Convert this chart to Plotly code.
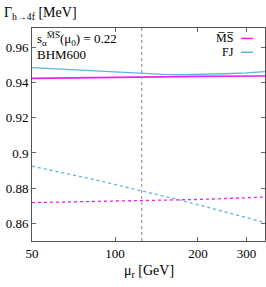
import math
import plotly.graph_objects as go

# renormalisation scale mu_r [GeV]
mu_r = [50, 60, 70, 85, 100, 125, 150, 175, 200, 250, 300, 350]

# solid lines (full result)
ms_full = [0.9424, 0.9426, 0.9427, 0.9429, 0.9430, 0.9432, 0.9433, 0.9434, 0.9435, 0.9436, 0.9436, 0.9437]
fj_full = [0.9485, 0.9478, 0.9472, 0.9464, 0.9458, 0.9450, 0.9446, 0.9445, 0.9446, 0.9450, 0.9455, 0.9462]

# dotted lines (LO)
ms_lo = [0.8718, 0.8720, 0.8721, 0.8723, 0.8725, 0.8729, 0.8731, 0.8733, 0.8736, 0.8741, 0.8745, 0.8750]
fj_lo = [0.8925, 0.8899, 0.8875, 0.8847, 0.8821, 0.8786, 0.8756, 0.8730, 0.8706, 0.8666, 0.8633, 0.8605]

mu0 = 125
x_range = [50, 350]
y_range = [0.85, 0.971]
x_ticks = [50, 100, 200, 300]
y_ticks = [0.86, 0.88, 0.90, 0.92, 0.94, 0.96]
y_ticktext = ["0.86", "0.88", "0.9", "0.92", "0.94", "0.96"]

MS_COL = "#f01ef0"
FJ_COL = "#5ab4e6"
FONT = "Liberation Serif"

fig = go.Figure()
fig.add_trace(go.Scatter(x=mu_r, y=ms_lo, mode="lines", line=dict(color=MS_COL, width=1.3, dash="dot"), showlegend=False))
fig.add_trace(go.Scatter(x=mu_r, y=fj_lo, mode="lines", line=dict(color=FJ_COL, width=1.3, dash="dot"), showlegend=False))
fig.add_trace(go.Scatter(x=mu_r, y=fj_full, mode="lines", line=dict(color=FJ_COL, width=1.3), showlegend=False))
fig.add_trace(go.Scatter(x=mu_r, y=ms_full, mode="lines", line=dict(color=MS_COL, width=1.6), showlegend=False))

fig.add_shape(type="line", xref="x", yref="paper", x0=mu0, x1=mu0, y0=0, y1=1,
              line=dict(color="#999999", width=1.2, dash="dot"))

# legend (gnuplot style: text, then sample)
leg_ms_y, leg_fj_y = 0.955, 0.886
fig.add_shape(type="line", xref="paper", yref="paper", x0=0.897, x1=0.948, y0=leg_ms_y - 0.004, y1=leg_ms_y - 0.004,
              line=dict(color=MS_COL, width=1.5))
fig.add_shape(type="line", xref="paper", yref="paper", x0=0.897, x1=0.948, y0=leg_fj_y, y1=leg_fj_y,
              line=dict(color=FJ_COL, width=1.5))

ann_font = dict(family=FONT, size=13, color="black")
leg_font = dict(family=FONT, size=12, color="black")
fig.add_annotation(xref="paper", yref="paper", x=0.876, y=leg_ms_y, text="M\u0305S\u0305", showarrow=False,
                   xanchor="right", yanchor="middle", font=leg_font)
fig.add_annotation(xref="paper", yref="paper", x=0.876, y=leg_fj_y, text="FJ", showarrow=False,
                   xanchor="right", yanchor="middle", font=leg_font)
fig.add_annotation(xref="paper", yref="paper", x=0.012, y=0.948,
                   text="s<sub>α</sub><sup>M\u0305S\u0305</sup>(μ<sub>0</sub>) = 0.22", showarrow=False,
                   xanchor="left", yanchor="middle", font=ann_font)
fig.add_annotation(xref="paper", yref="paper", x=0.012, y=0.875, text="BHM600", showarrow=False,
                   xanchor="left", yanchor="middle", font=ann_font)
fig.add_annotation(xref="x", yref="paper", x=mu0, y=1.005, text="μ<sub>0</sub>", showarrow=False,
                   xanchor="center", yanchor="bottom", font=ann_font)
fig.add_annotation(xref="paper", yref="paper", x=-0.13, y=1.07,
                   text="Γ<sub>h→4f</sub> [MeV]", showarrow=False,
                   xanchor="left", yanchor="middle", font=dict(family=FONT, size=14, color="black"))
fig.add_annotation(xref="paper", yref="paper", x=0.5, y=-0.145,
                   text="μ<sub>r</sub> [GeV]", showarrow=False,
                   xanchor="center", yanchor="middle", font=dict(family=FONT, size=14, color="black"))

axis_common = dict(showgrid=False, zeroline=False, showline=True, linecolor="#555555", linewidth=1,
                   mirror="allticks", ticks="inside", ticklen=4, tickcolor="#666666",
                   tickfont=dict(family=FONT, size=13, color="black"))

fig.update_xaxes(type="log", range=[math.log10(x_range[0]), math.log10(x_range[1])],
                 tickvals=x_ticks, ticktext=[str(v) for v in x_ticks], **axis_common)
fig.update_yaxes(range=y_range, tickvals=y_ticks, ticktext=y_ticktext, **axis_common)

fig.update_layout(width=266, height=287, margin=dict(l=32, r=1, t=28, b=46),
                  plot_bgcolor="white", paper_bgcolor="white", showlegend=False,
                  font=dict(family=FONT, size=13, color="black"))

fig.write_html("out.html", config={"displayModeBar": False},
               post_script="document.body.style.margin='0';document.body.style.overflow='hidden';")
